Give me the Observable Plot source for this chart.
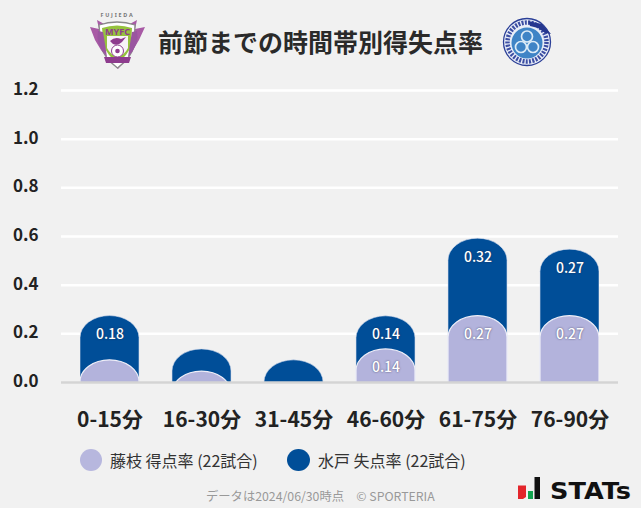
<!DOCTYPE html>
<html lang="ja"><head><meta charset="utf-8">
<script src="https://cdn.jsdelivr.net/npm/d3@7"></script>
<script src="https://cdn.jsdelivr.net/npm/@observablehq/plot@0.6"></script>
<style>
html,body{margin:0;padding:0;background:#f1f1f1;width:641px;height:508px;overflow:hidden;font-family:"Noto Sans CJK JP","Noto Sans",sans-serif;color:#222}
.abs{position:absolute;white-space:nowrap}
#chart{position:absolute;left:0;top:0}
svg{display:block}
</style></head><body>
<div id="chart"></div>
<div class="abs" id="title" style="left:158px;top:21px;font-size:25px;font-weight:700;line-height:40px;color:#2a2a2a">前節までの時間帯別得失点率</div>
<svg class="abs" style="left:85px;top:10px" width="65" height="62" viewBox="0 0 65 62">
  <text x="32.500" y="7" text-anchor="middle" font-size="5.400" font-weight="700" letter-spacing="1.800" fill="#777" font-family="Noto Sans">FUJIEDA</text>
  <path d="M5 17 L14 19 L12 10 L21 15 L32 12 L43 15 L52 10 L50 19 L60 17 L54 30 L48 40 L41 50 L33 59 L24 50 L16 40 L10 30Z" fill="#a85aa5"/>
  <path d="M14 15 Q32 9 50 15 L49 36 Q46 48 32.500 58 Q19 48 16 36Z" fill="#fff" stroke="#8a8a8a" stroke-width="1.300"/>
  <path d="M17 18 Q32 13 47 18 L46 36 Q43 45 32.500 53 Q22 45 19 36Z" fill="#95c23d"/>
  <path d="M22 26 H43 V38 Q40 44 32.500 48 Q25 44 22 38Z" fill="#f7f3f7"/>
  <path d="M13 21 Q10 34 22 47 Q20 33 18 22Z M52 21 Q55 34 43 47 Q45 33 47 22Z" fill="#9a55a0"/>
  <text x="32.500" y="25" text-anchor="middle" font-size="9" font-weight="700" fill="#8e3c8e" font-family="Noto Sans">MYFC</text>
  <path d="M25 31 Q30 26 36 29 L41 27 L37 32 Q33 36 28 34Z" fill="#8e3c8e"/>
  <circle cx="32.500" cy="41" r="6" fill="#fff" stroke="#8e3c8e"/><circle cx="32.500" cy="41" r="2.300" fill="#8e3c8e"/>
  <path d="M19 47 H46 L44 53 H21Z" fill="#8e3c8e"/>
</svg>
<svg class="abs" style="left:498px;top:12px" width="60" height="60" viewBox="0 0 60 60">
  <circle cx="29" cy="30" r="23.500" fill="#e9eef8" stroke="#2b3f97" stroke-width="1.300"/>
  <circle cx="29" cy="30" r="19.500" fill="none" stroke="#3c4ea3" stroke-width="4.500" stroke-dasharray="2 1.300"/>
  <circle cx="29" cy="31" r="15.500" fill="#3f84c6"/>
  <g fill="none" stroke="#dcebf7" stroke-width="1.700"><circle cx="29" cy="24.500" r="5.500"/><circle cx="23" cy="35" r="5.500"/><circle cx="35" cy="35" r="5.500"/></g>
  <path d="M30 9 L44 12 L53 22 L47 21 L40 16 L32 14Z" fill="#26378f"/>
</svg>
<div class="abs" style="left:80px;top:449px;width:22px;height:22px;border-radius:50%;background:#b7b7de"></div>
<div class="abs" style="left:110px;top:449px;font-size:16px;line-height:23px;color:#333">藤枝 得点率 (22試合)</div>
<div class="abs" style="left:287px;top:449px;width:23px;height:22px;border-radius:50%;background:#004e98"></div>
<div class="abs" style="left:318px;top:449px;font-size:16px;line-height:23px;color:#333">水戸 失点率 (22試合)</div>
<div class="abs" style="left:206px;top:487px;font-size:12.300px;line-height:18px;color:#999">データは2024/06/30時点　© SPORTERIA</div>
<svg class="abs" style="left:510px;top:470px" width="128" height="34" viewBox="0 0 128 34">
  <path d="M8 15.500 H16 V27 L13 29 H8Z" fill="#e3252b"/><path d="M18 21 H23 V29 H18Z" fill="#12a34f"/><path d="M24.500 7 H30 V29 H24.500Z" fill="#111"/>
  <text x="40" y="28.500" font-size="23" font-weight="700" fill="#111" font-family="DejaVu Sans" textLength="81" lengthAdjust="spacingAndGlyphs">STATs</text>
</svg>
<script>
const categories = ["0-15分","16-30分","31-45分","46-60分","61-75分","76-90分"];
const fujiedaScored = [0.091,0.045,0,0.136,0.273,0.273];
const mitoConceded = [0.182,0.091,0.091,0.136,0.318,0.273];
const yTicks = [0,0.2,0.4,0.6,0.8,1.0,1.2];
const hideBelow = 0.13;

const rows = categories.map((c,i)=>({c,f:fujiedaScored[i],m:mitoConceded[i],top:fujiedaScored[i]+mitoConceded[i]}));
const font = '"Noto Sans CJK JP","Noto Sans",sans-serif';
const capShape = {rx:29.5, ry:22, clip:"frame"};
const below = -0.3;
const labelStyle = {fill:"#fff", fontSize:14, fontWeight:500, dy:18.5, textAnchor:"middle"};

const plot = Plot.plot({
  width:641, height:440,
  marginTop:90, marginBottom:58, marginLeft:80, marginRight:42,
  style:{background:"transparent", fontFamily:font},
  x:{type:"band", domain:categories, paddingInner:0.359, paddingOuter:0, label:null},
  y:{domain:[0,1.2], label:null},
  marks:[
    Plot.ruleY(yTicks.filter(d=>d>0),{y:d=>d, stroke:"#fff", strokeWidth:2.5, insetLeft:-19, insetRight:-19}),
    Plot.axisY({ticks:yTicks, tickSize:0, tickPadding:42, dy:-1, tickFormat:d3.format(".1f"), fontSize:17, fontWeight:700, fill:"#222", label:null}),
    Plot.axisX({tickSize:0, tickPadding:30, fontSize:21, fontWeight:700, fill:"#222", label:null}),
    Plot.barY(rows,{x:"c", y1:()=>below, y2:"top", fill:"#004e98", stroke:"#d6deee", strokeWidth:0.6, ...capShape}),
    Plot.barY(rows.filter(d=>d.f>0),{x:"c", y1:()=>below, y2:"f", fill:"#b3b3dc", stroke:"#eeeef8", strokeWidth:1.2, ...capShape}),
    Plot.ruleY([0],{stroke:"#d4d4d4", strokeWidth:2.5, insetLeft:-19, insetRight:-19}),
    Plot.text(rows.filter(d=>d.m>=hideBelow),{x:"c", y:"top", text:d=>d.m.toFixed(2), ...labelStyle}),
    Plot.text(rows.filter(d=>d.f>=hideBelow),{x:"c", y:"f", text:d=>d.f.toFixed(2), ...labelStyle})
  ]
});
plot.querySelectorAll("g[aria-label='text'] text").forEach(t=>t.style.textShadow="0 0 2px rgba(40,40,70,.75)");
document.getElementById("chart").append(plot);
</script>
</body></html>
